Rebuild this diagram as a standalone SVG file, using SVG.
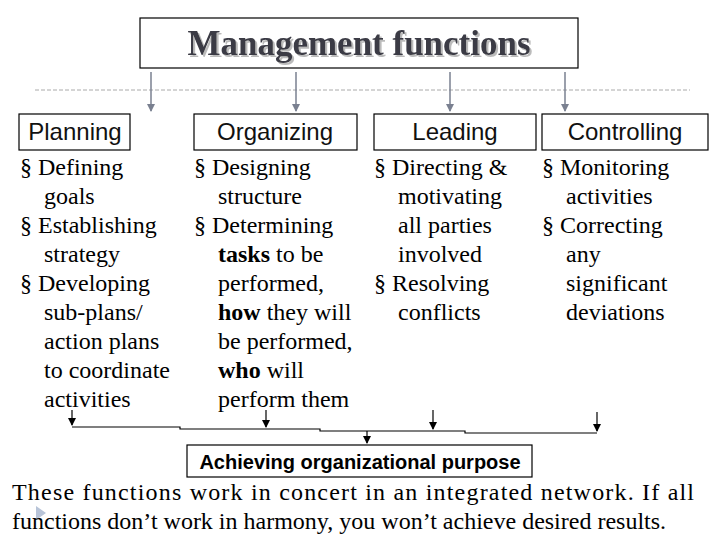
<svg xmlns="http://www.w3.org/2000/svg" width="720" height="540" viewBox="0 0 720 540">
<defs>
<marker id="ag" markerWidth="8" markerHeight="8" refX="4" refY="7" markerUnits="userSpaceOnUse"><path d="M0,0 L8,0 L4,8z" fill="#7a8090"/></marker>
<marker id="ab" markerWidth="8" markerHeight="8" refX="4" refY="7" markerUnits="userSpaceOnUse"><path d="M0,0 L8,0 L4,8z" fill="#000"/></marker>
<filter id="sh" x="-5%" y="-20%" width="110%" height="140%"><feDropShadow dx="2" dy="2" stdDeviation="0.5" flood-color="#bbb"/></filter>
</defs>
<style>
.box{fill:#fff;stroke:#000;stroke-width:1.2}
.hd{font-family:"Liberation Sans",Arial,sans-serif;font-size:24px;text-anchor:middle;fill:#111}
.b{font-family:"Liberation Serif","Times New Roman",serif;font-size:24px;fill:#000}
.g{stroke:#7a8090;stroke-width:1.5}
.k{stroke:#000;stroke-width:1.2;fill:none}
</style>
<rect width="720" height="540" fill="#fff"/>
<line x1="35" y1="90" x2="690" y2="90" stroke="#aaa" stroke-dasharray="4,2"/>
<g id="title"><rect class="box" x="140" y="18" width="438" height="50"/>
<text x="359" y="55" font-family="Liberation Serif,serif" font-size="35" font-weight="bold" text-anchor="middle" fill="#3a3a44" filter="url(#sh)">Management functions</text></g>
<g id="connectors">
<line class="g" x1="151" y1="72" x2="151" y2="111" marker-end="url(#ag)"/>
<line class="g" x1="296" y1="72" x2="296" y2="111" marker-end="url(#ag)"/>
<line class="g" x1="450" y1="72" x2="450" y2="111" marker-end="url(#ag)"/>
<line class="g" x1="565" y1="72" x2="565" y2="111" marker-end="url(#ag)"/>
<line class="k" x1="72" y1="410" x2="72" y2="425" marker-end="url(#ab)"/>
<line class="k" x1="266" y1="410" x2="266" y2="427" marker-end="url(#ab)"/>
<line class="k" x1="433" y1="410" x2="433" y2="429" marker-end="url(#ab)"/>
<line class="k" x1="597" y1="412" x2="597" y2="431" marker-end="url(#ab)"/>
<polyline class="k" points="72,427 180,427 180,429 320,429 320,431 465,431 465,433 597,433"/>
<line class="k" x1="367" y1="431" x2="367" y2="443" marker-end="url(#ab)"/>
</g>
<g id="planning"><rect class="box" x="19" y="114" width="111" height="36"/><text class="hd" x="75" y="140">Planning</text>
<text class="b"><tspan x="20" y="175">§ Defining</tspan><tspan x="44" y="204">goals</tspan><tspan x="20" y="233">§ Establishing</tspan><tspan x="44" y="262">strategy</tspan><tspan x="20" y="291">§ Developing</tspan><tspan x="44" y="320">sub-plans/</tspan><tspan x="44" y="349">action plans</tspan><tspan x="44" y="378">to coordinate</tspan><tspan x="44" y="407">activities</tspan></text></g>
<g id="organizing"><rect class="box" x="194" y="114" width="163" height="36"/><text class="hd" x="275" y="140">Organizing</text>
<text class="b"><tspan x="194" y="175">§ Designing</tspan><tspan x="218" y="204">structure</tspan><tspan x="194" y="233">§ Determining</tspan><tspan x="218" y="262" font-weight="bold">tasks</tspan><tspan> to be</tspan><tspan x="218" y="291">performed,</tspan><tspan x="218" y="320" font-weight="bold">how</tspan><tspan> they will</tspan><tspan x="218" y="349">be performed,</tspan><tspan x="218" y="378" font-weight="bold">who</tspan><tspan> will</tspan><tspan x="218" y="407">perform them</tspan></text></g>
<g id="leading"><rect class="box" x="374" y="114" width="162" height="36"/><text class="hd" x="455" y="140">Leading</text>
<text class="b"><tspan x="374" y="175">§ Directing &amp;</tspan><tspan x="398" y="204">motivating</tspan><tspan x="398" y="233">all parties</tspan><tspan x="398" y="262">involved</tspan><tspan x="374" y="291">§ Resolving</tspan><tspan x="398" y="320">conflicts</tspan></text></g>
<g id="controlling"><rect class="box" x="542" y="114" width="166" height="36"/><text class="hd" x="625" y="140">Controlling</text>
<text class="b"><tspan x="542" y="175">§ Monitoring</tspan><tspan x="566" y="204">activities</tspan><tspan x="542" y="233">§ Correcting</tspan><tspan x="566" y="262">any</tspan><tspan x="566" y="291">significant</tspan><tspan x="566" y="320">deviations</tspan></text></g>
<g id="purpose"><rect class="box" x="187" y="445" width="345" height="32"/><text x="360" y="469" font-family="Liberation Sans,sans-serif" font-size="20" font-weight="bold" text-anchor="middle">Achieving organizational purpose</text></g>
<path d="M36,506 L46,513 L36,520z" fill="#b8c4d8"/>
<g font-family="Liberation Serif,serif" font-size="24">
<text x="12" y="500" textLength="682" lengthAdjust="spacing">These functions work in concert in an integrated network. If all</text>
<text x="12" y="529">functions don’t work in harmony, you won’t achieve desired results.</text>
</g>
</svg>
